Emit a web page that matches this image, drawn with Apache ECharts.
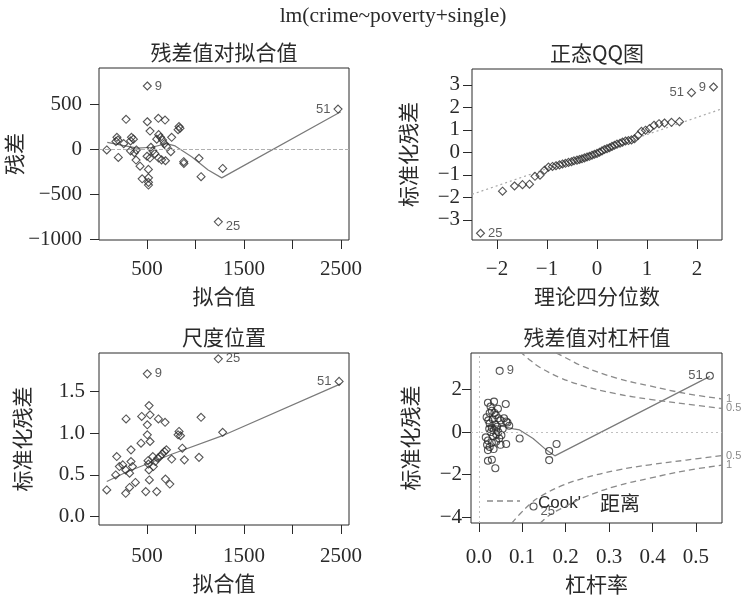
<!DOCTYPE html>
<html>
<head>
<meta charset="utf-8">
<script src="https://cdn.jsdelivr.net/npm/echarts@6/dist/echarts.min.js"></script>
<style>
  html, body { margin: 0; background: #fff; }
  #chart { width: 742px; height: 598px; }
</style>
</head>
<body>
<div id="chart"></div>
<script>
// residuals vs fitted (obs 9, 25, 51 first)
const fitted1 = [503, 1235, 2469, 284, 503, 617, 686, 830, 840, 820, 531, 754, 620, 640, 600, 660, 190, 200, 180, 340,
  360, 330, 85, 330, 370, 390, 540, 560, 580, 680, 700, 745, 204, 387, 500, 530, 620, 650, 690, 878,
  880, 1036, 1280, 1057, 428, 514, 450, 515, 515, 515, 260]
const resid1 = [700, -808, 444, 330, 303, 341, 322, 250, 230, 215, 200, 130, 160, 130, 110, 100, 130, 100, 85, 130,
  110, 90, -10, -20, -40, -10, 20, -20, -50, 60, 30, -30, -93, -122, -80, -100, -100, -120, -130, -140,
  -160, -103, -215, -307, -190, -226, -330, -320, -370, -400, 60]
const smooth1X = [90, 250, 400, 550, 700, 790, 960, 1130, 1270, 2497]
const smooth1Y = [75, 40, 10, 20, 60, 35, -85, -233, -320, 415]

// normal QQ
const qqTheo = [-2.33, -1.89, -1.65, -1.49, -1.35, -1.24, -1.14, -1.05, -0.97, -0.89, -0.82, -0.75, -0.69, -0.63, -0.57, -0.51, -0.46,
  -0.40, -0.35, -0.30, -0.25, -0.20, -0.15, -0.10, -0.05, 0, 0.05, 0.10, 0.15, 0.20, 0.25, 0.30, 0.35, 0.40,
  0.46, 0.51, 0.57, 0.63, 0.69, 0.75, 0.82, 0.89, 0.97, 1.05, 1.14, 1.24, 1.35, 1.49, 1.65, 1.89, 2.33]
const qqStd = [-3.6, -1.73, -1.50, -1.44, -1.42, -1.07, -1.02, -0.80, -0.66, -0.63, -0.60, -0.56, -0.52, -0.49, -0.45, -0.42, -0.38,
  -0.35, -0.32, -0.29, -0.25, -0.21, -0.18, -0.13, -0.09, -0.05, 0.0, 0.06, 0.12, 0.16, 0.20, 0.26, 0.31, 0.36,
  0.40, 0.45, 0.50, 0.52, 0.55, 0.60, 0.75, 0.93, 0.98, 1.05, 1.20, 1.27, 1.30, 1.33, 1.36, 2.65, 2.90]
const qqLabels = { 0: '25', 49: '51', 50: '9' }
const qqLineX = [-2.5, 2.5]
const qqLineY = [-1.87, 1.93]

// scale-location
const fitted3 = [503, 1235, 2480, 521, 284, 445, 531, 617, 686, 503, 1057, 830, 820, 845, 1280, 503, 438, 531, 864, 1036,
  885, 754, 680, 655, 635, 610, 335, 188, 215, 280, 350, 335, 320, 177, 510, 515, 520, 565, 585, 524,
  690, 735, 85, 280, 320, 380, 487, 600, 250, 560, 700]
const sqrtStd3 = [1.71, 1.89, 1.62, 1.33, 1.17, 1.20, 1.22, 1.17, 1.13, 1.10, 1.19, 1.02, 0.98, 0.97, 1.01, 0.98, 0.88, 0.90, 0.82, 0.71,
  0.68, 0.69, 0.78, 0.75, 0.72, 0.70, 0.80, 0.72, 0.60, 0.56, 0.60, 0.66, 0.52, 0.50, 0.67, 0.63, 0.56, 0.60, 0.66, 0.44,
  0.45, 0.39, 0.32, 0.28, 0.35, 0.41, 0.30, 0.30, 0.62, 0.72, 0.80]
const smooth3X = [85, 300, 500, 760, 1300, 2495]
const smooth3Y = [0.42, 0.54, 0.63, 0.75, 0.98, 1.59]

// residuals vs leverage
const lev4 = [0.048, 0.126, 0.532, 0.021, 0.035, 0.062, 0.027, 0.030, 0.025, 0.018, 0.022, 0.025, 0.039, 0.045, 0.050, 0.058, 0.063,
  0.066, 0.070, 0.094, 0.016, 0.021, 0.019, 0.025, 0.030, 0.045, 0.047, 0.050, 0.063, 0.021, 0.021, 0.030, 0.038, 0.162,
  0.179, 0.162, 0.030, 0.035, 0.040, 0.028, 0.033, 0.038, 0.042, 0.055, 0.032, 0.036, 0.040, 0.024, 0.044, 0.052, 0.034]
const std4 = [2.88, -3.5, 2.65, 1.38, 1.43, 1.32, 1.2, 1.0, 0.9, 0.7, 0.55, 0.4, 0.8, 0.65, 0.55, 0.65, 0.5,
  0.45, 0.3, -0.3, -0.25, -0.4, -0.6, -0.7, -0.5, 0.0, -0.3, -0.6, -0.56, -0.85, -1.35, -1.3, -1.7, -0.89,
  -0.56, -1.32, 0.2, 0.1, -0.1, 0.0, -0.2, 0.35, 0.25, 0.15, 0.6, 0.9, -0.45, 0.15, 1.1, -0.15, -0.8]
const smooth4X = [0.018, 0.035, 0.06, 0.08, 0.094, 0.125, 0.156, 0.175, 0.532]
const smooth4Y = [0.25, 0.3, 0.25, 0.15, 0.1, -0.3, -0.85, -1.12, 2.62]
const cookHalfUpX = [0.095, 0.12, 0.141, 0.187, 0.24, 0.317, 0.394, 0.478, 0.56]
const cookHalfUpY = [3.78, 3.35, 3.04, 2.56, 2.18, 1.80, 1.54, 1.32, 1.11]
const cookHalfLowX = [0.076, 0.094, 0.12, 0.141, 0.187, 0.24, 0.317, 0.394, 0.478, 0.56]
const cookHalfLowY = [-4.29, -3.87, -3.35, -3.04, -2.56, -2.18, -1.80, -1.54, -1.32, -1.11]
const cookOneUpX = [0.178, 0.195, 0.24, 0.317, 0.394, 0.478, 0.56]
const cookOneUpY = [3.72, 3.55, 3.09, 2.54, 2.17, 1.81, 1.56]
const cookOneLowX = [0.141, 0.157, 0.178, 0.195, 0.24, 0.317, 0.394, 0.478, 0.56]
const cookOneLowY = [-4.29, -4.0, -3.72, -3.55, -3.09, -2.54, -2.17, -1.81, -1.56]

const idLabels = { 0: '9', 1: '25', 2: '51' }

// tick values
const fitTicks = [500, 1000, 1500, 2000, 2500]
const fitLabels = [500, 1500, 2500]
const res1Ticks = [-1000, -500, 0, 500]
const qqXTicks = [-2, -1, 0, 1, 2]
const qqYTicks = [-3, -2, -1, 0, 1, 2, 3]
const slTicks = [0, 0.5, 1, 1.5]
const levTicks = [0, 0.1, 0.2, 0.3, 0.4, 0.5]
const std4Ticks = [-4, -2, 0, 2]

const serif = 'Liberation Serif'
const cjk = 'Noto Sans CJK SC'
const ink = '#2a2a2a'
const minus = (s) => String(s).replace('-', '\u2212')

function pairs(xs, ys) {
  return xs.map((x, i) => [x, ys[i]])
}

// dropLow: nudge the "25" label a little below its point, as in panels 1 and 4
function pointData(xs, ys, labels, mid, dropLow) {
  return xs.map((x, i) => {
    const d = { value: [x, ys[i]] }
    if (labels[i]) {
      d.label = {
        show: true,
        formatter: labels[i],
        position: x > mid ? 'left' : 'right',
        offset: dropLow && labels[i] === '25' ? [0, 5] : [0, 0],
      }
    }
    return d
  })
}

function xAxis(gridIndex, min, max, ticks, labels, name, nameGap, margin, fmt) {
  return {
    type: 'value', gridIndex, min, max,
    axisLine: { show: false, onZero: false },
    splitLine: { show: false },
    axisTick: { show: true, length: 9, customValues: ticks, lineStyle: { color: ink } },
    axisLabel: {
      customValues: labels, margin, color: ink, fontFamily: serif, fontSize: 21,
      formatter: fmt || ((v) => minus(v)),
    },
    name, nameLocation: 'middle', nameGap,
    nameTextStyle: { fontFamily: cjk, fontSize: 21, color: ink },
  }
}

function yAxis(gridIndex, min, max, ticks, name, nameGap, margin, fmt) {
  return {
    type: 'value', gridIndex, min, max,
    axisLine: { show: false, onZero: false },
    splitLine: { show: false },
    axisTick: { show: true, length: 9, customValues: ticks, lineStyle: { color: ink } },
    axisLabel: {
      customValues: ticks, margin, color: ink, fontFamily: serif, fontSize: 21,
      formatter: fmt || ((v) => minus(v)),
    },
    name, nameLocation: 'middle', nameGap, nameRotate: 90,
    nameTextStyle: { fontFamily: cjk, fontSize: 21, color: ink },
  }
}

const pointStyle = { color: 'rgba(0,0,0,0)', borderColor: ink, borderWidth: 1.1 }
const pointLabel = { fontFamily: 'Liberation Sans', fontSize: 13, color: '#333', distance: 3 }
const smoothStyle = { color: '#7a7a7a', width: 1.2 }
const cookStyle = { color: '#8a8a8a', width: 1.3, type: [6, 4] }

function scatter(idx, data, symbol) {
  return {
    type: 'scatter', xAxisIndex: idx, yAxisIndex: idx, data,
    symbol, symbolSize: symbol === 'circle' ? 7 : 8,
    itemStyle: pointStyle, label: pointLabel, z: 3,
  }
}

function line(idx, data, lineStyle, extra) {
  return Object.assign({
    type: 'line', xAxisIndex: idx, yAxisIndex: idx, data,
    showSymbol: false, symbol: 'none', lineStyle, silent: true, z: 2,
  }, extra || {})
}

const cookEnd = (text) => ({
  smooth: 0.4,
  endLabel: { show: true, formatter: text, color: '#8a8a8a', fontFamily: 'Liberation Sans', fontSize: 11, distance: 4 },
})

const titleText = (text, x, y, font) => ({
  type: 'text', x, y,
  style: { text, font, fill: ink, textAlign: 'center', textVerticalAlign: 'middle' },
})

const chart = echarts.init(document.getElementById('chart'))

chart.setOption({
  animation: false,
  backgroundColor: '#fff',
  grid: [
    { left: 99, top: 68, width: 250, height: 172, show: true, borderColor: ink, borderWidth: 1 },
    { left: 472, top: 69, width: 250, height: 171, show: true, borderColor: ink, borderWidth: 1 },
    { left: 99, top: 353, width: 250, height: 172, show: true, borderColor: ink, borderWidth: 1 },
    { left: 471, top: 353, width: 251, height: 170, show: true, borderColor: ink, borderWidth: 1 },
  ],
  xAxis: [
    xAxis(0, 5, 2582, fitTicks, fitLabels, '拟合值', 46, 19),
    xAxis(1, -2.5, 2.5, qqXTicks, qqXTicks, '理论四分位数', 46, 19),
    xAxis(2, 5, 2582, fitTicks, fitLabels, '拟合值', 48, 21),
    xAxis(3, -0.018, 0.56, levTicks, levTicks, '杠杆率', 51, 24, (v) => v.toFixed(1)),
  ],
  yAxis: [
    yAxis(0, -1010, 900, res1Ticks, '残差', 67, 17),
    yAxis(1, -3.9, 3.7, qqYTicks, '标准化残差', 53, 12),
    yAxis(2, -0.1, 1.96, slTicks, '标准化残差', 66, 14, (v) => v.toFixed(1)),
    yAxis(3, -4.28, 3.72, std4Ticks, '标准化残差', 50, 9),
  ],
  graphic: [
    titleText('lm(crime~poverty+single)', 393, 16, '21.5px "Liberation Serif"'),
    titleText('残差值对拟合值', 224, 52, '21px "Noto Sans CJK SC"'),
    titleText('正态QQ图', 597, 53, '21px "Noto Sans CJK SC"'),
    titleText('尺度位置', 224, 337, '21px "Noto Sans CJK SC"'),
    titleText('残差值对杠杆值', 597, 337, '21px "Noto Sans CJK SC"'),
    { type: 'line', shape: { x1: 487, y1: 501, x2: 520, y2: 501 }, style: { stroke: '#8a8a8a', lineWidth: 1.3, lineDash: [6, 4] } },
    { type: 'text', x: 538, y: 503, style: { text: "Cook'", font: '17px "Liberation Sans"', fill: ink, textAlign: 'left', textVerticalAlign: 'middle' } },
    { type: 'text', x: 600, y: 503, style: { text: '距离', font: '20px "Noto Sans CJK SC"', fill: ink, textAlign: 'left', textVerticalAlign: 'middle' } },
  ],
  series: [
    Object.assign(scatter(0, pointData(fitted1, resid1, idLabels, 1293, true), 'diamond'), {
      markLine: {
        silent: true, symbol: 'none', label: { show: false },
        lineStyle: { color: '#b0b0b0', width: 1, type: 'dashed' },
        data: [{ yAxis: 0 }],
      },
    }),
    line(0, pairs(smooth1X, smooth1Y), smoothStyle),

    scatter(1, pointData(qqTheo, qqStd, qqLabels, 0, false), 'diamond'),
    line(1, pairs(qqLineX, qqLineY), { color: '#a8a8a8', width: 1.2, type: [2, 3] }),

    scatter(2, pointData(fitted3, sqrtStd3, idLabels, 1293, false), 'diamond'),
    line(2, pairs(smooth3X, smooth3Y), smoothStyle),

    Object.assign(scatter(3, pointData(lev4, std4, idLabels, 0.27, true), 'circle'), {
      markLine: {
        silent: true, symbol: 'none', label: { show: false },
        lineStyle: { color: '#c0c0c0', width: 1, type: [2, 3] },
        data: [{ yAxis: 0 }, { xAxis: 0 }],
      },
    }),
    line(3, pairs(smooth4X, smooth4Y), smoothStyle),
    line(3, pairs(cookHalfUpX, cookHalfUpY), cookStyle, cookEnd('0.5')),
    line(3, pairs(cookOneUpX, cookOneUpY), cookStyle, cookEnd('1')),
    line(3, pairs(cookHalfLowX, cookHalfLowY), cookStyle, cookEnd('0.5')),
    line(3, pairs(cookOneLowX, cookOneLowY), cookStyle, cookEnd('1')),
  ],
})
</script>
</body>
</html>
